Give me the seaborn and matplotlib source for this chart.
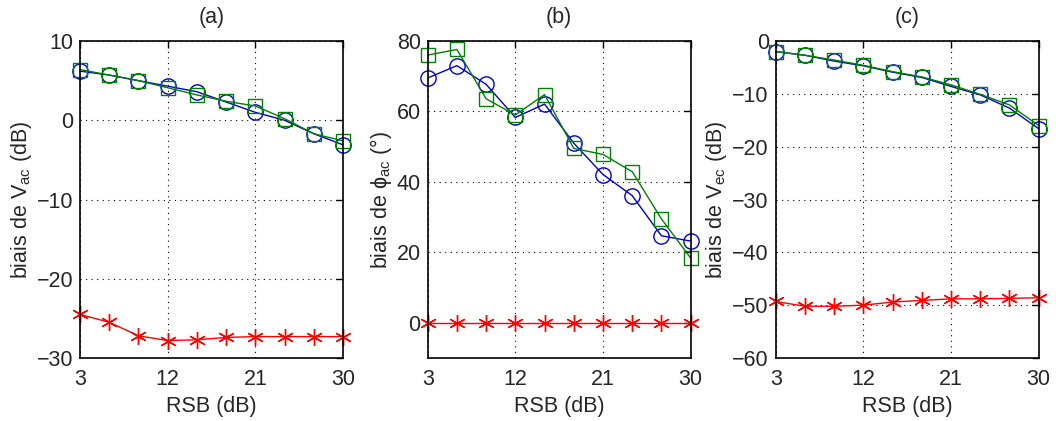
import numpy as np
import pandas as pd
import seaborn as sns
from matplotlib import pyplot as plt

sns.set_style("white")
plt.rcParams["font.family"] = ["Liberation Sans", "DejaVu Sans"]
plt.rcParams["mathtext.fontset"] = "custom"
plt.rcParams["mathtext.rm"] = "Liberation Sans"
plt.rcParams["mathtext.it"] = "Liberation Sans:italic"
plt.rcParams["mathtext.fallback"] = "stix"

fs = 15.5

rsb = [3, 6, 9, 12, 15, 18, 21, 24, 27, 30]

# (a) biais de V_ac
a_blue = [6.2, 5.7, 5.0, 4.3, 3.6, 2.3, 1.0, 0.0, -1.7, -3.1]
a_green = [6.4, 5.7, 5.0, 4.1, 3.2, 2.4, 1.8, 0.2, -1.7, -2.6]
a_red = [-24.5, -25.5, -27.2, -27.8, -27.7, -27.4, -27.3, -27.3, -27.3, -27.3]

# (b) biais de phi_ac
b_blue = [69.5, 73.0, 67.7, 58.3, 62.1, 51.0, 42.1, 36.1, 24.7, 23.2]
b_green = [76.0, 77.6, 63.6, 59.0, 64.8, 49.5, 47.8, 42.9, 29.5, 18.4]
b_red = [0, 0, 0, 0, 0, 0, 0, 0, 0, 0]

# (c) biais de V_ec
c_blue = [-2.0, -2.7, -3.8, -4.7, -5.9, -6.9, -8.6, -10.2, -12.7, -16.6]
c_green = [-2.0, -2.7, -3.6, -4.6, -5.8, -6.8, -8.3, -10.1, -12.1, -16.0]
c_red = [-49.3, -50.2, -50.2, -50.0, -49.4, -49.1, -48.8, -48.8, -48.7, -48.6]

panels = [
    ("(a)", "biais de V$_{\\mathrm{ac}}$ (dB)", a_blue, a_green, a_red, (-30, 10), [-30, -20, -10, 0, 10]),
    ("(b)", "biais de $\\mathrm{\u03d5}_{\\mathrm{ac}}$ (°)", b_blue, b_green, b_red, (-10, 80), [0, 20, 40, 60, 80]),
    ("(c)", "biais de V$_{\\mathrm{ec}}$ (dB)", c_blue, c_green, c_red, (-60, 0), [-60, -50, -40, -30, -20, -10, 0]),
]

blue = "#0000cc"
green = "#008000"
red = "#ff0000"
star = (6, 2, 0)

fig = plt.figure(figsize=(10.56, 4.21), dpi=100)
lefts = [0.0758, 0.405, 0.7346]

for left, (title, ylab, yb, yg, yr, ylim, yticks) in zip(lefts, panels):
    ax = fig.add_axes([left, 0.1496, 0.249, 0.753])
    sns.lineplot(x=rsb, y=yb, ax=ax, color=blue, marker="o", markersize=11,
                 markerfacecolor="none", markeredgecolor=blue, markeredgewidth=1,
                 linewidth=1, clip_on=False)
    sns.lineplot(x=rsb, y=yg, ax=ax, color=green, marker="s", markersize=10,
                 markerfacecolor="none", markeredgecolor=green, markeredgewidth=1,
                 linewidth=1, clip_on=False)
    sns.lineplot(x=rsb, y=yr, ax=ax, color=red, marker=star, markersize=12,
                 markeredgecolor=red, markeredgewidth=1, linewidth=1, clip_on=False)
    ax.set_xlim(3, 30)
    ax.set_ylim(*ylim)
    ax.set_xticks([3, 12, 21, 30])
    ax.set_yticks(yticks)
    ax.set_title(title, fontsize=fs, pad=13)
    ax.set_xlabel("RSB (dB)", fontsize=fs, labelpad=4)
    ax.set_ylabel(ylab, fontsize=fs, labelpad=2)
    ax.grid(True, color="black", linestyle=(0, (1, 4)), linewidth=0.8)
    ax.tick_params(direction="in", length=5, width=1, top=True, right=True,
                   labelsize=fs, color="black")
    ax.tick_params(axis="x", pad=8)
    ax.tick_params(axis="y", pad=5)
    for s in ax.spines.values():
        s.set_color("black")
        s.set_linewidth(1.2)

fig.savefig("out.png", dpi=100)
